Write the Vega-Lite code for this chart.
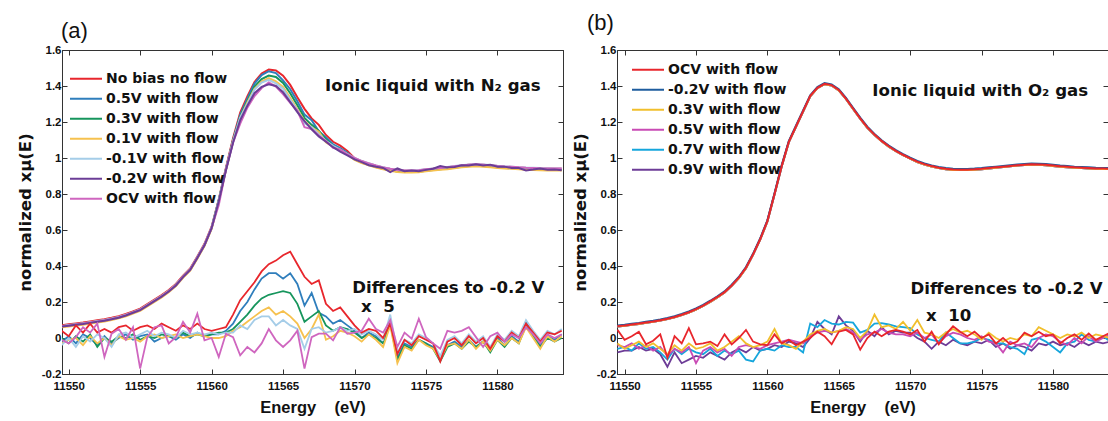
{
"$schema": "https://vega.github.io/schema/vega-lite/v6.json",
"background": "white",
"padding": {"left": 16, "top": 11, "right": 0, "bottom": 0},
"spacing": 7,
"config": {
 "font": "Liberation Sans",
 "view": {"stroke": "#333", "strokeWidth": 1},
 "axis": {"grid": false, "domainColor": "#333", "tickColor": "#333", "tickSize": -5, "labelFont": "Liberation Sans", "labelFontWeight": "bold", "labelFontSize": 11.5, "labelColor": "#111", "titleFont": "DejaVu Sans", "titleFontWeight": "bold", "titleFontSize": 16.5, "titleColor": "#111"},
 "legend": {"symbolType": "stroke", "symbolSize": 1024, "symbolStrokeWidth": 2, "labelFont": "DejaVu Sans", "labelFontWeight": "bold", "labelFontSize": 14, "labelColor": "#111", "labelOffset": 3, "clipHeight": 19.6, "rowPadding": 0, "padding": 0},
 "title": {"font": "Liberation Sans", "fontSize": 22, "fontWeight": "normal", "color": "#111", "anchor": "start", "frame": "group"}
},
"resolve": {"scale": {"color": "independent"}, "legend": {"color": "independent"}},
"datasets": {
"a": [
{"E":11549.5,"m1":0.071,"m2":0.063,"m3":0.065,"m4":0.059,"m5":0.067,"m6":0.063,"m7":0.065,"d1":0.04,"d2":-0.02,"d3":0,"d4":-0.03,"d5":-0.04,"d7":-0.01},
{"E":11550,"m1":0.076,"m2":0.068,"m3":0.07,"m4":0.064,"m5":0.072,"m6":0.068,"m7":0.07,"d1":0.01,"d2":0.01,"d3":-0.03,"d4":-0.01,"d5":0,"d7":-0.03},
{"E":11550.5,"m1":0.081,"m2":0.073,"m3":0.075,"m4":0.069,"m5":0.077,"m6":0.073,"m7":0.075,"d1":0.07,"d2":-0.03,"d3":0.01,"d4":0,"d5":-0.05,"d7":0.005},
{"E":11551,"m1":0.086,"m2":0.078,"m3":0.08,"m4":0.074,"m5":0.082,"m6":0.078,"m7":0.08,"d1":0.03,"d2":0.02,"d3":-0.02,"d4":-0.04,"d5":0.01,"d7":0.06},
{"E":11551.5,"m1":0.092,"m2":0.084,"m3":0.086,"m4":0.08,"m5":0.088,"m6":0.084,"m7":0.086,"d1":0.08,"d2":0,"d3":0.02,"d4":0.01,"d5":-0.02,"d7":0.03},
{"E":11552,"m1":0.098,"m2":0.09,"m3":0.092,"m4":0.086,"m5":0.094,"m6":0.09,"m7":0.092,"d1":0.03,"d2":-0.04,"d3":-0.05,"d4":-0.03,"d5":0.02,"d7":0.08},
{"E":11552.5,"m1":0.104,"m2":0.096,"m3":0.098,"m4":0.092,"m5":0.1,"m6":0.096,"m7":0.098,"d1":0.05,"d2":0.01,"d3":0,"d4":0,"d5":0,"d7":-0.105},
{"E":11553,"m1":0.112,"m2":0.104,"m3":0.106,"m4":0.1,"m5":0.108,"m6":0.104,"m7":0.106,"d1":0.03,"d2":-0.03,"d3":-0.02,"d4":-0.04,"d5":-0.05,"d7":0.024},
{"E":11553.5,"m1":0.121,"m2":0.113,"m3":0.115,"m4":0.109,"m5":0.117,"m6":0.113,"m7":0.115,"d1":0.06,"d2":0,"d3":0.01,"d4":0.01,"d5":0.02,"d7":0.05},
{"E":11554,"m1":0.133,"m2":0.125,"m3":0.127,"m4":0.121,"m5":0.129,"m6":0.125,"m7":0.127,"d1":0.07,"d2":0.02,"d3":0,"d4":-0.01,"d5":0.03,"d7":-0.01},
{"E":11554.5,"m1":0.148,"m2":0.14,"m3":0.142,"m4":0.136,"m5":0.144,"m6":0.14,"m7":0.142,"d1":0.04,"d2":-0.01,"d3":0.02,"d4":0,"d5":0,"d7":0.06},
{"E":11555,"m1":0.163,"m2":0.155,"m3":0.157,"m4":0.151,"m5":0.159,"m6":0.155,"m7":0.157,"d1":0.06,"d2":0.01,"d3":-0.01,"d4":-0.02,"d5":0.02,"d7":-0.17},
{"E":11555.5,"m1":0.188,"m2":0.18,"m3":0.182,"m4":0.176,"m5":0.184,"m6":0.18,"m7":0.182,"d1":0.07,"d2":0.02,"d3":0.01,"d4":0.01,"d5":0.04,"d7":0.005},
{"E":11556,"m1":0.213,"m2":0.205,"m3":0.207,"m4":0.201,"m5":0.209,"m6":0.205,"m7":0.207,"d1":0.05,"d2":-0.02,"d3":0,"d4":0.02,"d5":0.01,"d7":0.06},
{"E":11556.5,"m1":0.238,"m2":0.23,"m3":0.232,"m4":0.226,"m5":0.234,"m6":0.23,"m7":0.232,"d1":0.08,"d2":0,"d3":0.02,"d4":0,"d5":0.03,"d7":0.07},
{"E":11557,"m1":0.266,"m2":0.258,"m3":0.26,"m4":0.254,"m5":0.262,"m6":0.258,"m7":0.26,"d1":0.06,"d2":0.01,"d3":0.01,"d4":0.01,"d5":0.02,"d7":-0.03},
{"E":11557.5,"m1":0.3,"m2":0.292,"m3":0.294,"m4":0.288,"m5":0.296,"m6":0.292,"m7":0.294,"d1":0.04,"d2":-0.01,"d3":0,"d4":0.02,"d5":0,"d7":0.005},
{"E":11558,"m1":0.346,"m2":0.338,"m3":0.34,"m4":0.334,"m5":0.342,"m6":0.338,"m7":0.34,"d1":0.07,"d2":0.02,"d3":0.03,"d4":0,"d5":0.04,"d7":0.09},
{"E":11558.5,"m1":0.386,"m2":0.378,"m3":0.38,"m4":0.374,"m5":0.382,"m6":0.378,"m7":0.38,"d1":0.05,"d2":0,"d3":0.01,"d4":0.01,"d5":0.02,"d7":0.03},
{"E":11559,"m1":0.453,"m2":0.445,"m3":0.447,"m4":0.441,"m5":0.449,"m6":0.445,"m7":0.447,"d1":0.08,"d2":0.03,"d3":0.02,"d4":0.02,"d5":0.03,"d7":0.135},
{"E":11559.5,"m1":0.523,"m2":0.515,"m3":0.517,"m4":0.511,"m5":0.519,"m6":0.515,"m7":0.517,"d1":0.05,"d2":0.01,"d3":0.01,"d4":0.01,"d5":0.02,"d7":-0.013},
{"E":11560,"m1":0.618,"m2":0.61,"m3":0.612,"m4":0.606,"m5":0.614,"m6":0.61,"m7":0.612,"d1":0.04,"d2":0.02,"d3":0.02,"d4":0,"d5":0.03,"d7":0},
{"E":11560.5,"m1":0.77,"m2":0.764,"m3":0.766,"m4":0.76,"m5":0.764,"m6":0.76,"m7":0.739,"d1":0.05,"d2":0.02,"d3":0.03,"d4":0,"d5":0.02,"d7":-0.105},
{"E":11561,"m1":0.944,"m2":0.938,"m3":0.936,"m4":0.932,"m5":0.936,"m6":0.93,"m7":0.935,"d1":0.06,"d2":0.04,"d3":0.03,"d4":0.01,"d5":0.03,"d7":0.024},
{"E":11561.5,"m1":1.11,"m2":1.101,"m3":1.095,"m4":1.093,"m5":1.091,"m6":1.085,"m7":1.086,"d1":0.13,"d2":0.08,"d3":0.05,"d4":0.04,"d5":0.03,"d7":0.005},
{"E":11562,"m1":1.252,"m2":1.24,"m3":1.228,"m4":1.222,"m5":1.224,"m6":1.21,"m7":1.191,"d1":0.21,"d2":0.15,"d3":0.09,"d4":0.06,"d5":0.07,"d7":-0.096},
{"E":11562.5,"m1":1.342,"m2":1.33,"m3":1.316,"m4":1.308,"m5":1.3,"m6":1.29,"m7":1.28,"d1":0.26,"d2":0.2,"d3":0.13,"d4":0.09,"d5":0.05,"d7":-0.05},
{"E":11563,"m1":1.422,"m2":1.414,"m3":1.396,"m4":1.384,"m5":1.38,"m6":1.36,"m7":1.344,"d1":0.31,"d2":0.27,"d3":0.18,"d4":0.12,"d5":0.1,"d7":-0.08},
{"E":11563.5,"m1":1.469,"m2":1.461,"m3":1.439,"m4":1.425,"m5":1.419,"m6":1.395,"m7":1.389,"d1":0.37,"d2":0.33,"d3":0.22,"d4":0.15,"d5":0.12,"d7":-0.03},
{"E":11564,"m1":1.492,"m2":1.482,"m3":1.458,"m4":1.444,"m5":1.434,"m6":1.41,"m7":1.42,"d1":0.41,"d2":0.36,"d3":0.24,"d4":0.17,"d5":0.12,"d7":0.05},
{"E":11564.5,"m1":1.486,"m2":1.472,"m3":1.45,"m4":1.426,"m5":1.414,"m6":1.4,"m7":1.397,"d1":0.43,"d2":0.36,"d3":0.25,"d4":0.13,"d5":0.07,"d7":-0.013},
{"E":11565,"m1":1.457,"m2":1.431,"m3":1.417,"m4":1.395,"m5":1.385,"m6":1.365,"m7":1.355,"d1":0.46,"d2":0.33,"d3":0.26,"d4":0.15,"d5":0.1,"d7":-0.05},
{"E":11565.5,"m1":1.406,"m2":1.382,"m3":1.36,"m4":1.334,"m5":1.324,"m6":1.31,"m7":1.307,"d1":0.48,"d2":0.36,"d3":0.25,"d4":0.12,"d5":0.07,"d7":-0.013},
{"E":11566,"m1":1.337,"m2":1.315,"m3":1.293,"m4":1.271,"m5":1.265,"m6":1.255,"m7":1.263,"d1":0.41,"d2":0.3,"d3":0.19,"d4":0.08,"d5":0.05,"d7":0.04},
{"E":11566.5,"m1":1.273,"m2":1.241,"m3":1.223,"m4":1.205,"m5":1.193,"m6":1.205,"m7":1.171,"d1":0.34,"d2":0.18,"d3":0.09,"d4":0,"d5":-0.06,"d7":-0.17},
{"E":11567,"m1":1.22,"m2":1.21,"m3":1.184,"m4":1.17,"m5":1.17,"m6":1.16,"m7":1.161,"d1":0.3,"d2":0.25,"d3":0.12,"d4":0.05,"d5":0.05,"d7":0.005},
{"E":11567.5,"m1":1.184,"m2":1.148,"m3":1.15,"m4":1.146,"m5":1.132,"m6":1.12,"m7":1.125,"d1":0.32,"d2":0.14,"d3":0.15,"d4":0.13,"d5":0.06,"d7":0.024},
{"E":11568,"m1":1.128,"m2":1.114,"m3":1.104,"m4":1.088,"m5":1.096,"m6":1.09,"m7":1.095,"d1":0.19,"d2":0.12,"d3":0.07,"d4":-0.01,"d5":0.03,"d7":0.024},
{"E":11568.5,"m1":1.09,"m2":1.076,"m3":1.068,"m4":1.062,"m5":1.068,"m6":1.06,"m7":1.057,"d1":0.15,"d2":0.08,"d3":0.04,"d4":0.01,"d5":0.04,"d7":-0.013},
{"E":11569,"m1":1.069,"m2":1.055,"m3":1.047,"m4":1.043,"m5":1.047,"m6":1.035,"m7":1.047,"d1":0.17,"d2":0.1,"d3":0.06,"d4":0.04,"d5":0.06,"d7":0.06},
{"E":11569.5,"m1":1.039,"m2":1.029,"m3":1.025,"m4":1.021,"m5":1.023,"m6":1.015,"m7":1.02,"d1":0.12,"d2":0.07,"d3":0.05,"d4":0.03,"d5":0.04,"d7":0.024},
{"E":11570,"m1":0.999,"m2":0.995,"m3":0.992,"m4":0.989,"m5":1.001,"m6":0.992,"m7":1.0,"d1":0.07,"d2":0.04,"d3":0.03,"d4":0.01,"d5":0.05,"d7":0.03},
{"E":11570.5,"m1":0.982,"m2":0.978,"m3":0.975,"m4":0.972,"m5":0.984,"m6":0.977,"m7":0.983,"d1":0.03,"d2":0,"d3":0,"d4":-0.02,"d5":0.02,"d7":0.04},
{"E":11571,"m1":0.969,"m2":0.965,"m3":0.962,"m4":0.959,"m5":0.971,"m6":0.96,"m7":0.97,"d1":0.05,"d2":0.03,"d3":0.02,"d4":0.02,"d5":0.04,"d7":0.107},
{"E":11571.5,"m1":0.957,"m2":0.953,"m3":0.95,"m4":0.947,"m5":0.959,"m6":0.951,"m7":0.958,"d1":0.04,"d2":0.01,"d3":0,"d4":-0.01,"d5":0.02,"d7":0.05},
{"E":11572,"m1":0.947,"m2":0.943,"m3":0.94,"m4":0.937,"m5":0.949,"m6":0.945,"m7":0.948,"d1":0,"d2":-0.03,"d3":-0.03,"d4":-0.05,"d5":-0.01,"d7":0.03},
{"E":11572.5,"m1":0.939,"m2":0.935,"m3":0.932,"m4":0.929,"m5":0.941,"m6":0.922,"m7":0.94,"d1":0.08,"d2":0.1,"d3":0.08,"d4":0.07,"d5":0.13,"d7":0.1},
{"E":11573,"m1":0.932,"m2":0.928,"m3":0.925,"m4":0.922,"m5":0.934,"m6":0.942,"m7":0.933,"d1":-0.09,"d2":-0.11,"d3":-0.12,"d4":-0.14,"d5":-0.08,"d7":-0.05},
{"E":11573.5,"m1":0.929,"m2":0.925,"m3":0.922,"m4":0.919,"m5":0.931,"m6":0.927,"m7":0.93,"d1":-0.01,"d2":-0.03,"d3":-0.04,"d4":-0.05,"d5":-0.01,"d7":0.03},
{"E":11574,"m1":0.929,"m2":0.925,"m3":0.922,"m4":0.919,"m5":0.931,"m6":0.931,"m7":0.93,"d1":-0.04,"d2":-0.05,"d3":-0.06,"d4":-0.07,"d5":-0.03,"d7":-0.004},
{"E":11574.5,"m1":0.931,"m2":0.927,"m3":0.924,"m4":0.921,"m5":0.933,"m6":0.927,"m7":0.932,"d1":0.01,"d2":-0.01,"d3":-0.01,"d4":-0.01,"d5":0.02,"d7":0.107},
{"E":11575,"m1":0.936,"m2":0.932,"m3":0.929,"m4":0.926,"m5":0.938,"m6":0.934,"m7":0.937,"d1":-0.01,"d2":-0.03,"d3":-0.03,"d4":-0.04,"d5":0,"d7":0.005},
{"E":11575.5,"m1":0.94,"m2":0.936,"m3":0.933,"m4":0.93,"m5":0.942,"m6":0.94,"m7":0.941,"d1":-0.03,"d2":-0.05,"d3":-0.06,"d4":-0.06,"d5":-0.03,"d7":-0.03},
{"E":11576,"m1":0.944,"m2":0.94,"m3":0.937,"m4":0.934,"m5":0.946,"m6":0.955,"m7":0.945,"d1":-0.13,"d2":-0.12,"d3":-0.13,"d4":-0.12,"d5":-0.1,"d7":-0.06},
{"E":11576.5,"m1":0.948,"m2":0.944,"m3":0.941,"m4":0.938,"m5":0.95,"m6":0.948,"m7":0.949,"d1":-0.02,"d2":-0.04,"d3":-0.05,"d4":-0.04,"d5":-0.01,"d7":0.04},
{"E":11577,"m1":0.953,"m2":0.949,"m3":0.946,"m4":0.943,"m5":0.955,"m6":0.95,"m7":0.954,"d1":0,"d2":-0.02,"d3":-0.03,"d4":-0.03,"d5":0.01,"d7":0.03},
{"E":11577.5,"m1":0.958,"m2":0.954,"m3":0.951,"m4":0.948,"m5":0.96,"m6":0.96,"m7":0.959,"d1":-0.04,"d2":-0.05,"d3":-0.06,"d4":-0.06,"d5":-0.03,"d7":0.04},
{"E":11578,"m1":0.962,"m2":0.958,"m3":0.955,"m4":0.952,"m5":0.964,"m6":0.958,"m7":0.963,"d1":0.01,"d2":-0.01,"d3":-0.02,"d4":-0.01,"d5":0.02,"d7":0.06},
{"E":11578.5,"m1":0.964,"m2":0.96,"m3":0.957,"m4":0.954,"m5":0.966,"m6":0.965,"m7":0.965,"d1":-0.03,"d2":-0.05,"d3":-0.05,"d4":-0.06,"d5":-0.02,"d7":0.005},
{"E":11579,"m1":0.962,"m2":0.958,"m3":0.955,"m4":0.952,"m5":0.964,"m6":0.959,"m7":0.963,"d1":0,"d2":-0.02,"d3":-0.02,"d4":-0.02,"d5":0.01,"d7":-0.05},
{"E":11579.5,"m1":0.959,"m2":0.955,"m3":0.952,"m4":0.949,"m5":0.961,"m6":0.963,"m7":0.96,"d1":-0.06,"d2":-0.07,"d3":-0.08,"d4":-0.07,"d5":-0.05,"d7":0.01},
{"E":11580,"m1":0.955,"m2":0.951,"m3":0.948,"m4":0.945,"m5":0.957,"m6":0.951,"m7":0.956,"d1":0.01,"d2":0,"d3":-0.01,"d4":-0.01,"d5":0.02,"d7":0.03},
{"E":11580.5,"m1":0.952,"m2":0.948,"m3":0.945,"m4":0.942,"m5":0.954,"m6":0.952,"m7":0.953,"d1":-0.02,"d2":-0.04,"d3":-0.05,"d4":-0.04,"d5":-0.01,"d7":-0.02},
{"E":11581,"m1":0.95,"m2":0.946,"m3":0.943,"m4":0.94,"m5":0.952,"m6":0.944,"m7":0.951,"d1":0.03,"d2":0.01,"d3":0,"d4":0,"d5":0.04,"d7":0.02},
{"E":11581.5,"m1":0.947,"m2":0.943,"m3":0.94,"m4":0.937,"m5":0.949,"m6":0.944,"m7":0.948,"d1":0,"d2":-0.02,"d3":-0.03,"d4":-0.03,"d5":0.01,"d7":0},
{"E":11582,"m1":0.945,"m2":0.941,"m3":0.938,"m4":0.935,"m5":0.947,"m6":0.931,"m7":0.946,"d1":0.08,"d2":0.09,"d3":0.07,"d4":0.06,"d5":0.1,"d7":0.06},
{"E":11582.5,"m1":0.944,"m2":0.94,"m3":0.937,"m4":0.934,"m5":0.946,"m6":0.936,"m7":0.945,"d1":0.03,"d2":0.02,"d3":0.01,"d4":0,"d5":0.04,"d7":0.02},
{"E":11583,"m1":0.942,"m2":0.938,"m3":0.935,"m4":0.932,"m5":0.944,"m6":0.942,"m7":0.943,"d1":-0.02,"d2":-0.04,"d3":-0.05,"d4":-0.06,"d5":-0.01,"d7":-0.03},
{"E":11583.5,"m1":0.941,"m2":0.937,"m3":0.934,"m4":0.931,"m5":0.943,"m6":0.935,"m7":0.942,"d1":0.03,"d2":0.01,"d3":0,"d4":0.01,"d5":0.04,"d7":0.02},
{"E":11584,"m1":0.94,"m2":0.936,"m3":0.933,"m4":0.93,"m5":0.942,"m6":0.936,"m7":0.941,"d1":0.02,"d2":-0.01,"d3":-0.02,"d4":-0.02,"d5":0.02,"d7":0},
{"E":11584.5,"m1":0.94,"m2":0.936,"m3":0.933,"m4":0.93,"m5":0.942,"m6":0.932,"m7":0.941,"d1":0.04,"d2":0.02,"d3":0,"d4":0.01,"d5":0.05,"d7":0.02}
],
"b": [
{"E":11549.5,"m1":0.066,"m2":0.07,"m3":0.064,"m4":0.064,"m5":0.064,"m6":0.064,"d1":0.045,"d3":-0.03,"d4":-0.04,"d5":-0.06,"d6":-0.08},
{"E":11550,"m1":0.07,"m2":0.074,"m3":0.068,"m4":0.068,"m5":0.068,"m6":0.068,"d1":-0.01,"d3":-0.06,"d4":-0.05,"d5":-0.05,"d6":-0.07},
{"E":11550.5,"m1":0.075,"m2":0.079,"m3":0.073,"m4":0.073,"m5":0.073,"m6":0.073,"d1":0.01,"d3":-0.04,"d4":-0.03,"d5":-0.07,"d6":-0.07},
{"E":11551,"m1":0.08,"m2":0.084,"m3":0.078,"m4":0.078,"m5":0.078,"m6":0.078,"d1":0.035,"d3":-0.02,"d4":-0.06,"d5":-0.03,"d6":-0.05},
{"E":11551.5,"m1":0.086,"m2":0.09,"m3":0.084,"m4":0.084,"m5":0.084,"m6":0.084,"d1":-0.035,"d3":-0.05,"d4":-0.04,"d5":-0.06,"d6":-0.07},
{"E":11552,"m1":0.092,"m2":0.096,"m3":0.09,"m4":0.09,"m5":0.09,"m6":0.09,"d1":-0.015,"d3":-0.03,"d4":-0.07,"d5":-0.05,"d6":-0.06},
{"E":11552.5,"m1":0.099,"m2":0.103,"m3":0.097,"m4":0.097,"m5":0.097,"m6":0.097,"d1":0.02,"d3":-0.06,"d4":-0.05,"d5":-0.08,"d6":-0.09},
{"E":11553,"m1":0.107,"m2":0.111,"m3":0.105,"m4":0.105,"m5":0.105,"m6":0.105,"d1":-0.11,"d3":-0.09,"d4":-0.1,"d5":-0.12,"d6":-0.16},
{"E":11553.5,"m1":0.117,"m2":0.121,"m3":0.115,"m4":0.115,"m5":0.115,"m6":0.115,"d1":0.01,"d3":-0.04,"d4":-0.06,"d5":-0.06,"d6":-0.08},
{"E":11554,"m1":0.129,"m2":0.133,"m3":0.127,"m4":0.127,"m5":0.127,"m6":0.127,"d1":-0.03,"d3":-0.07,"d4":-0.08,"d5":-0.09,"d6":-0.14},
{"E":11554.5,"m1":0.143,"m2":0.147,"m3":0.141,"m4":0.141,"m5":0.141,"m6":0.141,"d1":0.055,"d3":-0.03,"d4":-0.05,"d5":-0.06,"d6":-0.12},
{"E":11555,"m1":0.16,"m2":0.164,"m3":0.158,"m4":0.158,"m5":0.158,"m6":0.158,"d1":-0.035,"d3":-0.06,"d4":-0.14,"d5":-0.08,"d6":-0.1},
{"E":11555.5,"m1":0.18,"m2":0.184,"m3":0.178,"m4":0.178,"m5":0.178,"m6":0.178,"d1":-0.03,"d3":-0.05,"d4":-0.07,"d5":-0.09,"d6":-0.11},
{"E":11556,"m1":0.203,"m2":0.207,"m3":0.201,"m4":0.201,"m5":0.201,"m6":0.201,"d1":-0.02,"d3":-0.03,"d4":-0.05,"d5":-0.06,"d6":-0.08},
{"E":11556.5,"m1":0.228,"m2":0.232,"m3":0.226,"m4":0.226,"m5":0.226,"m6":0.226,"d1":-0.045,"d3":-0.07,"d4":-0.08,"d5":-0.1,"d6":-0.1},
{"E":11557,"m1":0.255,"m2":0.259,"m3":0.253,"m4":0.253,"m5":0.253,"m6":0.253,"d1":0.02,"d3":-0.05,"d4":-0.06,"d5":-0.07,"d6":-0.12},
{"E":11557.5,"m1":0.292,"m2":0.296,"m3":0.29,"m4":0.29,"m5":0.29,"m6":0.29,"d1":-0.035,"d3":-0.02,"d4":-0.1,"d5":-0.09,"d6":-0.08},
{"E":11558,"m1":0.335,"m2":0.339,"m3":0.333,"m4":0.333,"m5":0.333,"m6":0.333,"d1":0,"d3":0.01,"d4":-0.05,"d5":-0.07,"d6":-0.06},
{"E":11558.5,"m1":0.39,"m2":0.394,"m3":0.388,"m4":0.388,"m5":0.388,"m6":0.388,"d1":0.045,"d3":-0.03,"d4":-0.04,"d5":-0.12,"d6":-0.08},
{"E":11559,"m1":0.465,"m2":0.469,"m3":0.463,"m4":0.463,"m5":0.463,"m6":0.463,"d1":-0.02,"d3":-0.05,"d4":-0.05,"d5":-0.13,"d6":-0.05},
{"E":11559.5,"m1":0.55,"m2":0.554,"m3":0.548,"m4":0.548,"m5":0.548,"m6":0.548,"d1":-0.035,"d3":-0.04,"d4":-0.06,"d5":-0.07,"d6":-0.07},
{"E":11560,"m1":0.65,"m2":0.654,"m3":0.648,"m4":0.648,"m5":0.648,"m6":0.648,"d1":-0.04,"d3":-0.02,"d4":-0.04,"d5":-0.06,"d6":-0.06},
{"E":11560.5,"m1":0.8,"m2":0.804,"m3":0.798,"m4":0.798,"m5":0.798,"m6":0.798,"d1":0.02,"d3":0.05,"d4":-0.03,"d5":-0.07,"d6":-0.04},
{"E":11561,"m1":0.955,"m2":0.959,"m3":0.953,"m4":0.953,"m5":0.953,"m6":0.953,"d1":-0.03,"d3":-0.03,"d4":-0.02,"d5":-0.04,"d6":-0.05},
{"E":11561.5,"m1":1.09,"m2":1.094,"m3":1.088,"m4":1.088,"m5":1.088,"m6":1.088,"d1":-0.01,"d3":-0.04,"d4":-0.01,"d5":-0.05,"d6":-0.02},
{"E":11562,"m1":1.175,"m2":1.179,"m3":1.173,"m4":1.173,"m5":1.173,"m6":1.173,"d1":-0.04,"d3":-0.06,"d4":-0.02,"d5":-0.05,"d6":-0.03},
{"E":11562.5,"m1":1.26,"m2":1.264,"m3":1.258,"m4":1.258,"m5":1.258,"m6":1.258,"d1":-0.02,"d3":-0.02,"d4":-0.03,"d5":-0.08,"d6":-0.05},
{"E":11563,"m1":1.345,"m2":1.349,"m3":1.343,"m4":1.343,"m5":1.343,"m6":1.343,"d1":0,"d3":0.02,"d4":0.01,"d5":0.08,"d6":0},
{"E":11563.5,"m1":1.39,"m2":1.394,"m3":1.388,"m4":1.388,"m5":1.388,"m6":1.388,"d1":0.035,"d3":0.04,"d4":0.03,"d5":0.06,"d6":0.09},
{"E":11564,"m1":1.412,"m2":1.416,"m3":1.41,"m4":1.41,"m5":1.41,"m6":1.41,"d1":0.01,"d3":0.05,"d4":0.04,"d5":0.1,"d6":0.05},
{"E":11564.5,"m1":1.405,"m2":1.409,"m3":1.403,"m4":1.403,"m5":1.403,"m6":1.403,"d1":-0.035,"d3":0.03,"d4":0.03,"d5":0.08,"d6":0.02},
{"E":11565,"m1":1.378,"m2":1.382,"m3":1.376,"m4":1.376,"m5":1.376,"m6":1.376,"d1":0.035,"d3":0.04,"d4":0.04,"d5":0.075,"d6":0.12},
{"E":11565.5,"m1":1.33,"m2":1.334,"m3":1.328,"m4":1.328,"m5":1.328,"m6":1.328,"d1":0.045,"d3":0.06,"d4":0.05,"d5":0.09,"d6":0.07},
{"E":11566,"m1":1.275,"m2":1.279,"m3":1.273,"m4":1.273,"m5":1.273,"m6":1.273,"d1":0.02,"d3":0.05,"d4":0.03,"d5":0.085,"d6":0.04},
{"E":11566.5,"m1":1.22,"m2":1.224,"m3":1.218,"m4":1.218,"m5":1.218,"m6":1.218,"d1":-0.065,"d3":0,"d4":-0.01,"d5":0.03,"d6":-0.02},
{"E":11567,"m1":1.17,"m2":1.174,"m3":1.168,"m4":1.168,"m5":1.168,"m6":1.168,"d1":0,"d3":0.04,"d4":0.02,"d5":0.045,"d6":0.04},
{"E":11567.5,"m1":1.13,"m2":1.134,"m3":1.128,"m4":1.128,"m5":1.128,"m6":1.128,"d1":0.035,"d3":0.13,"d4":0.03,"d5":0.08,"d6":0.01},
{"E":11568,"m1":1.095,"m2":1.099,"m3":1.093,"m4":1.093,"m5":1.093,"m6":1.093,"d1":0.01,"d3":0.06,"d4":0.05,"d5":0.083,"d6":0.06},
{"E":11568.5,"m1":1.065,"m2":1.069,"m3":1.063,"m4":1.063,"m5":1.063,"m6":1.063,"d1":0.035,"d3":0.07,"d4":0.03,"d5":0.075,"d6":0.02},
{"E":11569,"m1":1.04,"m2":1.044,"m3":1.038,"m4":1.038,"m5":1.038,"m6":1.038,"d1":0.045,"d3":0.05,"d4":0.02,"d5":0.065,"d6":0.04},
{"E":11569.5,"m1":1.018,"m2":1.022,"m3":1.016,"m4":1.016,"m5":1.016,"m6":1.016,"d1":0.035,"d3":0.09,"d4":0.02,"d5":0.06,"d6":0.03},
{"E":11570,"m1":0.998,"m2":1.002,"m3":0.996,"m4":0.996,"m5":0.996,"m6":0.996,"d1":0.02,"d3":0.04,"d4":0.01,"d5":0.055,"d6":0.03},
{"E":11570.5,"m1":0.98,"m2":0.984,"m3":0.978,"m4":0.978,"m5":0.978,"m6":0.978,"d1":0.045,"d3":0.1,"d4":0.03,"d5":0.02,"d6":0},
{"E":11571,"m1":0.966,"m2":0.97,"m3":0.964,"m4":0.964,"m5":0.964,"m6":0.964,"d1":-0.02,"d3":0.03,"d4":0,"d5":0,"d6":-0.02},
{"E":11571.5,"m1":0.955,"m2":0.959,"m3":0.953,"m4":0.953,"m5":0.953,"m6":0.953,"d1":0.035,"d3":0.02,"d4":0.02,"d5":-0.01,"d6":-0.06},
{"E":11572,"m1":0.946,"m2":0.95,"m3":0.944,"m4":0.944,"m5":0.944,"m6":0.944,"d1":-0.035,"d3":0,"d4":-0.03,"d5":-0.02,"d6":-0.02},
{"E":11572.5,"m1":0.94,"m2":0.944,"m3":0.938,"m4":0.938,"m5":0.938,"m6":0.938,"d1":0.02,"d3":0.03,"d4":0.01,"d5":0.03,"d6":-0.04},
{"E":11573,"m1":0.936,"m2":0.94,"m3":0.934,"m4":0.934,"m5":0.934,"m6":0.934,"d1":0.065,"d3":0.05,"d4":0.03,"d5":0,"d6":-0.01},
{"E":11573.5,"m1":0.935,"m2":0.939,"m3":0.933,"m4":0.933,"m5":0.933,"m6":0.933,"d1":0.035,"d3":0.03,"d4":0.02,"d5":-0.03,"d6":-0.03},
{"E":11574,"m1":0.935,"m2":0.939,"m3":0.933,"m4":0.933,"m5":0.933,"m6":0.933,"d1":0.01,"d3":0.04,"d4":0,"d5":-0.03,"d6":-0.04},
{"E":11574.5,"m1":0.937,"m2":0.941,"m3":0.935,"m4":0.935,"m5":0.935,"m6":0.935,"d1":0.035,"d3":0.02,"d4":-0.01,"d5":-0.02,"d6":-0.02},
{"E":11575,"m1":0.94,"m2":0.944,"m3":0.938,"m4":0.938,"m5":0.938,"m6":0.938,"d1":0,"d3":-0.01,"d4":0.01,"d5":0,"d6":-0.03},
{"E":11575.5,"m1":0.944,"m2":0.948,"m3":0.942,"m4":0.942,"m5":0.942,"m6":0.942,"d1":0.02,"d3":0.03,"d4":-0.02,"d5":-0.01,"d6":-0.01},
{"E":11576,"m1":0.948,"m2":0.952,"m3":0.946,"m4":0.946,"m5":0.946,"m6":0.946,"d1":-0.03,"d3":0,"d4":-0.03,"d5":-0.03,"d6":-0.05},
{"E":11576.5,"m1":0.952,"m2":0.956,"m3":0.95,"m4":0.95,"m5":0.95,"m6":0.95,"d1":0,"d3":-0.02,"d4":-0.08,"d5":-0.03,"d6":-0.03},
{"E":11577,"m1":0.956,"m2":0.96,"m3":0.954,"m4":0.954,"m5":0.954,"m6":0.954,"d1":-0.035,"d3":0,"d4":-0.02,"d5":-0.05,"d6":-0.06},
{"E":11577.5,"m1":0.96,"m2":0.964,"m3":0.958,"m4":0.958,"m5":0.958,"m6":0.958,"d1":-0.02,"d3":-0.01,"d4":-0.04,"d5":-0.06,"d6":-0.04},
{"E":11578,"m1":0.963,"m2":0.967,"m3":0.961,"m4":0.961,"m5":0.961,"m6":0.961,"d1":0.03,"d3":0.02,"d4":-0.03,"d5":-0.09,"d6":-0.05},
{"E":11578.5,"m1":0.965,"m2":0.969,"m3":0.963,"m4":0.963,"m5":0.963,"m6":0.963,"d1":0.01,"d3":0.01,"d4":-0.05,"d5":-0.01,"d6":-0.07},
{"E":11579,"m1":0.964,"m2":0.968,"m3":0.962,"m4":0.962,"m5":0.962,"m6":0.962,"d1":0.035,"d3":0.06,"d4":0,"d5":0,"d6":-0.03},
{"E":11579.5,"m1":0.962,"m2":0.966,"m3":0.96,"m4":0.96,"m5":0.96,"m6":0.96,"d1":0.01,"d3":0.04,"d4":0.02,"d5":-0.02,"d6":-0.04},
{"E":11580,"m1":0.958,"m2":0.962,"m3":0.956,"m4":0.956,"m5":0.956,"m6":0.956,"d1":0.02,"d3":0.02,"d4":0.01,"d5":-0.05,"d6":-0.02},
{"E":11580.5,"m1":0.954,"m2":0.958,"m3":0.952,"m4":0.952,"m5":0.952,"m6":0.952,"d1":-0.03,"d3":0,"d4":-0.02,"d5":-0.08,"d6":-0.04},
{"E":11581,"m1":0.951,"m2":0.955,"m3":0.949,"m4":0.949,"m5":0.949,"m6":0.949,"d1":0,"d3":0.02,"d4":-0.04,"d5":-0.03,"d6":-0.03},
{"E":11581.5,"m1":0.948,"m2":0.952,"m3":0.946,"m4":0.946,"m5":0.946,"m6":0.946,"d1":0.02,"d3":0.01,"d4":0,"d5":-0.02,"d6":-0.05},
{"E":11582,"m1":0.946,"m2":0.95,"m3":0.944,"m4":0.944,"m5":0.944,"m6":0.944,"d1":-0.01,"d3":0.03,"d4":-0.03,"d5":0.02,"d6":-0.02},
{"E":11582.5,"m1":0.944,"m2":0.948,"m3":0.942,"m4":0.942,"m5":0.942,"m6":0.942,"d1":0.025,"d3":0,"d4":0.01,"d5":-0.01,"d6":-0.04},
{"E":11583,"m1":0.942,"m2":0.946,"m3":0.94,"m4":0.94,"m5":0.94,"m6":0.94,"d1":-0.01,"d3":0.02,"d4":-0.02,"d5":-0.02,"d6":-0.02},
{"E":11583.5,"m1":0.941,"m2":0.945,"m3":0.939,"m4":0.939,"m5":0.939,"m6":0.939,"d1":0.01,"d3":0.01,"d4":0,"d5":0.01,"d6":-0.03},
{"E":11584,"m1":0.94,"m2":0.944,"m3":0.938,"m4":0.938,"m5":0.938,"m6":0.938,"d1":0.03,"d3":0,"d4":0.02,"d5":-0.02,"d6":-0.02},
{"E":11584.5,"m1":0.94,"m2":0.944,"m3":0.938,"m4":0.938,"m5":0.938,"m6":0.938,"d1":0,"d3":0.01,"d4":0,"d5":0,"d6":-0.03}
]
},
"hconcat": [
{
 "width": 501, "height": 324,
 "title": {"text": "(a)", "offset": 1, "dx": -1},
 "resolve": {"axis": {"x": "independent", "y": "independent"}},
 "layer": [
  {
   "data": {"name": "a"},
   "transform": [
    {"fold": ["m1","m2","m3","m4","m5","m7","m6"], "as": ["k","v"]},
    {"lookup": "k", "from": {"data": {"values": [{"k":"m1","s":"No bias no flow"},{"k":"m2","s":"0.5V with flow"},{"k":"m3","s":"0.3V with flow"},{"k":"m4","s":"0.1V with flow"},{"k":"m5","s":"-0.1V with flow"},{"k":"m6","s":"-0.2V with flow"},{"k":"m7","s":"OCV with flow"}]}, "key": "k", "fields": ["s"]}}
   ],
   "mark": {"type": "line", "strokeWidth": 2, "clip": true},
   "encoding": {
    "x": {"field": "E", "type": "quantitative", "scale": {"domain": [11549.53, 11584.59], "nice": false, "zero": false},
          "axis": {"orient": "bottom", "values": [11550,11555,11560,11565,11570,11575,11580], "format": "d", "title": "Energy\u00a0\u00a0\u00a0\u00a0(eV)", "titleFont": "Liberation Sans", "titleFontSize": 16.5, "labelPadding": 11, "titlePadding": 8}},
    "y": {"field": "v", "type": "quantitative", "scale": {"domain": [-0.2, 1.6], "nice": false, "zero": false},
          "axis": {"orient": "left", "values": [-0.2,0,0.2,0.4,0.6,0.8,1,1.2,1.4,1.6], "labelExpr": "'' + datum.value", "title": "normalized x\u03bc(E)", "labelPadding": 6, "titlePadding": 8}},
    "color": {"field": "s", "type": "nominal",
      "scale": {"domain": ["No bias no flow","0.5V with flow","0.3V with flow","0.1V with flow","-0.1V with flow","-0.2V with flow","OCV with flow"], "range": ["#e8262c","#2f7ebc","#16955c","#f6c14e","#a5cde8","#6b3d96","#cf66bf"]},
      "legend": {"title": null, "orient": "none", "legendX": 7, "legendY": 19}}
   }
  },
  {
   "data": {"name": "a"},
   "transform": [
    {"fold": ["d2","d3","d4","d5","d1","d7"], "as": ["k","v"]},
    {"lookup": "k", "from": {"data": {"values": [{"k":"d1","s":"No bias no flow"},{"k":"d2","s":"0.5V with flow"},{"k":"d3","s":"0.3V with flow"},{"k":"d4","s":"0.1V with flow"},{"k":"d5","s":"-0.1V with flow"},{"k":"d7","s":"OCV with flow"}]}, "key": "k", "fields": ["s"]}}
   ],
   "mark": {"type": "line", "strokeWidth": 1.8, "clip": true},
   "encoding": {
    "x": {"field": "E", "type": "quantitative", "axis": {"orient": "top", "values": [11550,11555,11560,11565,11570,11575,11580], "labels": false, "title": null}},
    "y": {"field": "v", "type": "quantitative", "axis": {"orient": "right", "values": [-0.2,0,0.2,0.4,0.6,0.8,1,1.2,1.4,1.6], "labels": false, "title": null}},
    "color": {"field": "s", "type": "nominal",
      "scale": {"domain": ["No bias no flow","0.5V with flow","0.3V with flow","0.1V with flow","-0.1V with flow","-0.2V with flow","OCV with flow"], "range": ["#e8262c","#2f7ebc","#16955c","#f6c14e","#a5cde8","#6b3d96","#cf66bf"]},
      "legend": {"title": null, "orient": "none", "legendX": 7, "legendY": 19}}
   }
  },
  {
   "data": {"values": [
     {"E": 11567.94, "y": 1.399, "t": "Ionic liquid with N\u2082 gas"},
     {"E": 11569.84, "y": 0.277, "t": "Differences to -0.2 V"},
     {"E": 11570.45, "y": 0.175, "t": "x\u00a0\u00a05"}
   ]},
   "mark": {"type": "text", "align": "left", "baseline": "middle", "font": "DejaVu Sans", "fontWeight": "bold", "fontSize": 16.6, "color": "#111"},
   "encoding": {
    "x": {"field": "E", "type": "quantitative", "axis": null},
    "y": {"field": "y", "type": "quantitative", "axis": null},
    "text": {"field": "t"}
   }
  }
 ]
},
{
 "width": 491, "height": 324,
 "title": {"text": "(b)", "offset": 9, "dx": -30},
 "resolve": {"axis": {"x": "independent", "y": "independent"}},
 "layer": [
  {
   "data": {"name": "b"},
   "transform": [
    {"fold": ["m6","m5","m4","m3","m2","m1"], "as": ["k","v"]},
    {"lookup": "k", "from": {"data": {"values": [{"k":"m1","s":"OCV with flow"},{"k":"m2","s":"-0.2V with flow"},{"k":"m3","s":"0.3V with flow"},{"k":"m4","s":"0.5V with flow"},{"k":"m5","s":"0.7V with flow"},{"k":"m6","s":"0.9V with flow"}]}, "key": "k", "fields": ["s"]}}
   ],
   "mark": {"type": "line", "strokeWidth": 2, "clip": true},
   "encoding": {
    "x": {"field": "E", "type": "quantitative", "scale": {"domain": [11549.47, 11583.85], "nice": false, "zero": false},
          "axis": {"orient": "bottom", "values": [11550,11555,11560,11565,11570,11575,11580], "format": "d", "title": "Energy\u00a0\u00a0\u00a0\u00a0(eV)", "titleFont": "Liberation Sans", "titleFontSize": 16.5, "labelPadding": 11, "titlePadding": 8}},
    "y": {"field": "v", "type": "quantitative", "scale": {"domain": [-0.2, 1.6], "nice": false, "zero": false},
          "axis": {"orient": "left", "values": [-0.2,0,0.2,0.4,0.6,0.8,1,1.2,1.4,1.6], "labelExpr": "'' + datum.value", "title": "normalized x\u03bc(E)", "labelPadding": 6, "titlePadding": 8}},
    "color": {"field": "s", "type": "nominal",
      "scale": {"domain": ["OCV with flow","-0.2V with flow","0.3V with flow","0.5V with flow","0.7V with flow","0.9V with flow"], "range": ["#e8262c","#1e5c9e","#f1bf2c","#c94bb5","#16a6dc","#6d3c97"]},
      "legend": {"title": null, "orient": "none", "legendX": 14, "legendY": 10}}
   }
  },
  {
   "data": {"name": "b"},
   "transform": [
    {"fold": ["d6","d5","d4","d3","d1"], "as": ["k","v"]},
    {"lookup": "k", "from": {"data": {"values": [{"k":"d1","s":"OCV with flow"},{"k":"d3","s":"0.3V with flow"},{"k":"d4","s":"0.5V with flow"},{"k":"d5","s":"0.7V with flow"},{"k":"d6","s":"0.9V with flow"}]}, "key": "k", "fields": ["s"]}}
   ],
   "mark": {"type": "line", "strokeWidth": 1.8, "clip": true},
   "encoding": {
    "x": {"field": "E", "type": "quantitative", "axis": {"orient": "top", "values": [11550,11555,11560,11565,11570,11575,11580], "labels": false, "title": null}},
    "y": {"field": "v", "type": "quantitative", "axis": {"orient": "right", "values": [-0.2,0,0.2,0.4,0.6,0.8,1,1.2,1.4,1.6], "labels": false, "title": null}},
    "color": {"field": "s", "type": "nominal",
      "scale": {"domain": ["OCV with flow","-0.2V with flow","0.3V with flow","0.5V with flow","0.7V with flow","0.9V with flow"], "range": ["#e8262c","#1e5c9e","#f1bf2c","#c94bb5","#16a6dc","#6d3c97"]},
      "legend": {"title": null, "orient": "none", "legendX": 14, "legendY": 10}}
   }
  },
  {
   "data": {"values": [
     {"E": 11567.35, "y": 1.375, "t": "Ionic liquid with O\u2082 gas"},
     {"E": 11570.02, "y": 0.272, "t": "Differences to -0.2 V"},
     {"E": 11571.1, "y": 0.12, "t": "x\u00a0\u00a010"}
   ]},
   "mark": {"type": "text", "align": "left", "baseline": "middle", "font": "DejaVu Sans", "fontWeight": "bold", "fontSize": 16.6, "color": "#111"},
   "encoding": {
    "x": {"field": "E", "type": "quantitative", "axis": null},
    "y": {"field": "y", "type": "quantitative", "axis": null},
    "text": {"field": "t"}
   }
  }
 ]
}
]
}
